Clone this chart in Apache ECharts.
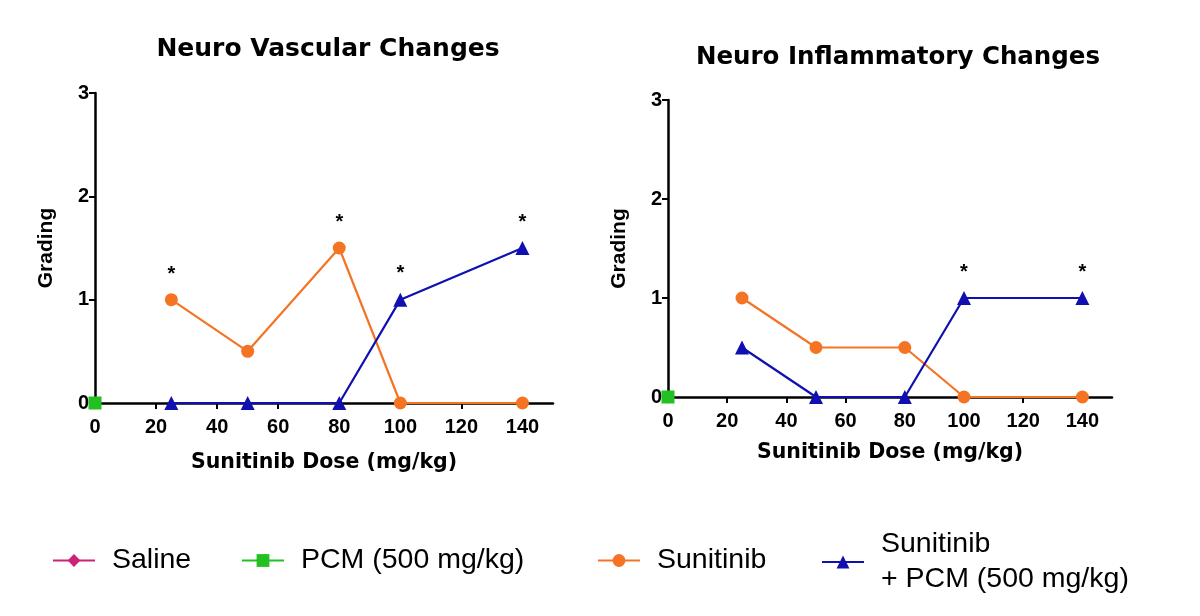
<!DOCTYPE html>
<html><head><meta charset="utf-8">
<script src="https://cdn.jsdelivr.net/npm/echarts@6/dist/echarts.min.js"></script>
<style>html,body{margin:0;padding:0;background:#fff}#c{width:1200px;height:616px}</style>
</head><body><div id="c"></div>
<script>
// ---- data ----
const xTicks = [0, 20, 40, 60, 80, 100, 120, 140];
const yTicks = [0, 1, 2, 3];
const titles = ['Neuro Vascular Changes', 'Neuro Inflammatory Changes'];
const seriesNames = ['Saline', 'PCM (500 mg/kg)', 'Sunitinib', 'Sunitinib\n+ PCM (500 mg/kg)'];
const controlDose = [0];
const salineVasc = [0];
const pcmVasc = [0];
const salineInfl = [0];
const pcmInfl = [0];
const sunDoses = [25, 50, 80, 100, 140];
const sunVasc = [1, 0.5, 1.5, 0, 0];
const sunVascSig = [1, 0, 1, 0, 0];
const comboVasc = [0, 0, 0, 1, 1.5];
const comboVascSig = [0, 0, 0, 1, 1];
const sunInfl = [1, 0.5, 0.5, 0, 0];
const sunInflSig = [0, 0, 0, 0, 0];
const comboInfl = [0.5, 0, 0, 1, 1];
const comboInflSig = [0, 0, 0, 1, 1];

const colors = ['#cc2277', '#22c020', '#f47424', '#1010b0'];
const symbols = ['diamond', 'rect', 'circle', 'triangle'];
const FONT = 'Liberation Sans, Arial, sans-serif';
const WIDE = 'DejaVu Sans, Verdana, sans-serif';

function pts(xs, ys, sig) {
  return xs.map((x, i) => {
    const d = {value: [x, ys[i]]};
    if (sig && sig[i]) d.label = {show: true};
    return d;
  });
}

const grids = [
  {left: 95, top: 93, width: 458, height: 310},
  {left: 668, top: 100, width: 444, height: 297}
];
const nameGaps = [49, 45];

function mkSeries(idx, data) {
  return {
    name: seriesNames[idx], type: 'line', xAxisIndex: data.g, yAxisIndex: data.g,
    data: data.d, symbol: symbols[idx], symbolSize: idx === 3 ? 14 : 13,
    color: colors[idx], lineStyle: {width: 2.2, color: colors[idx]},
    itemStyle: {color: colors[idx]},
    label: {show: false, formatter: '*', position: 'top', distance: 9, color: '#000', fontSize: 20, fontWeight: 'bold', fontFamily: FONT},
    animation: false, z: 3 + idx
  };
}

const series = [];
[[salineVasc, pcmVasc, sunVasc, sunVascSig, comboVasc, comboVascSig],
 [salineInfl, pcmInfl, sunInfl, sunInflSig, comboInfl, comboInflSig]].forEach((s, g) => {
  series.push(mkSeries(0, {g, d: pts(controlDose, s[0])}));
  series.push(mkSeries(1, {g, d: pts(controlDose, s[1])}));
  series.push(mkSeries(2, {g, d: pts(sunDoses, s[2], s[3])}));
  series.push(mkSeries(3, {g, d: pts(sunDoses, s[4], s[5])}));
});

const axisLine = {lineStyle: {color: '#000', width: 2.5}};
const xAxes = grids.map((g, i) => ({
  gridIndex: i, type: 'value', min: 0, max: 150,
  name: 'Sunitinib Dose (mg/kg)', nameLocation: 'middle', nameGap: nameGaps[i],
  nameTextStyle: {fontFamily: WIDE, fontWeight: 'bold', fontSize: 20.5, color: '#000'},
  axisLine: Object.assign({onZero: true}, axisLine),
  axisTick: {show: true, length: 6, lineStyle: {color: '#000', width: 2}, customValues: xTicks},
  axisLabel: {customValues: xTicks, fontFamily: FONT, fontWeight: 'bold', fontSize: 20, color: '#000', margin: 14},
  splitLine: {show: false}
}));
const yAxes = grids.map((g, i) => ({
  gridIndex: i, type: 'value', min: 0, max: 3, interval: 1,
  name: 'Grading', nameLocation: 'middle', nameGap: 38, nameRotate: 90,
  nameTextStyle: {fontFamily: FONT, fontWeight: 'bold', fontSize: 21, color: '#000'},
  axisLine: Object.assign({show: true}, axisLine),
  axisTick: {show: true, length: 6, lineStyle: {color: '#000', width: 2}},
  axisLabel: {fontFamily: FONT, fontWeight: 'bold', fontSize: 20, color: '#000', margin: 6, formatter: v => yTicks.includes(v) ? String(v) : ''},
  splitLine: {show: false}
}));

const legendPos = [47, 236, 592, 816];
const legends = seriesNames.map((n, i) => ({
  data: [n], left: legendPos[i], top: i === 3 ? 522 : 538,
  itemWidth: 42, itemHeight: 16, itemGap: 10,
  textStyle: {fontFamily: FONT, fontSize: 28.5, color: '#000', lineHeight: 35, padding: [0, 0, 0, 12]},
  selectedMode: false
}));

const chart = echarts.init(document.getElementById('c'), null, {renderer: 'canvas'});
chart.setOption({
  backgroundColor: '#fff',
  animation: false,
  title: [
    {text: titles[0], left: 323, top: 32, textAlign: 'center', textStyle: {fontFamily: WIDE, fontWeight: 'bold', fontSize: 25, color: '#000'}},
    {text: titles[1], left: 893, top: 40, textAlign: 'center', textStyle: {fontFamily: WIDE, fontWeight: 'bold', fontSize: 24.5, color: '#000'}}
  ],
  grid: grids,
  xAxis: xAxes,
  yAxis: yAxes,
  legend: legends,
  series: series
});
</script></body></html>
